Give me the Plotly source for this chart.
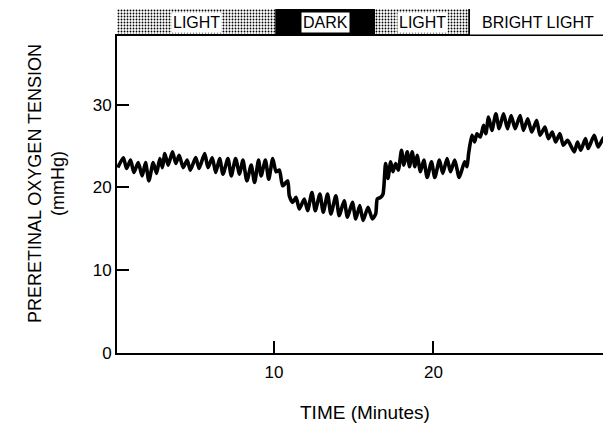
import plotly.graph_objects as go

# ---- data ----
time_min = [0.2, 0.55, 0.75, 1.0, 1.21, 1.48, 1.73, 1.94, 2.15, 2.42, 2.63, 2.84, 3.0, 3.15, 3.36,
            3.63, 3.84, 4.05, 4.3, 4.55, 4.75, 5.09, 5.3, 5.65, 5.86, 6.13, 6.34, 6.59, 6.8, 7.11,
            7.32, 7.59, 7.84, 8.05, 8.3, 8.57, 8.78, 9.03, 9.19, 9.46, 9.67, 9.92, 10.13, 10.34,
            10.54, 10.86, 10.96, 11.17, 11.38, 11.59, 11.9, 12.11, 12.38, 12.59, 12.88, 13.09,
            13.36, 13.57, 13.88, 14.09, 14.4, 14.61, 14.92, 15.13, 15.38, 15.59, 15.9, 16.17,
            16.38, 16.48, 16.69, 16.84, 17.0, 17.15, 17.32, 17.46, 17.63, 17.8, 18.0, 18.15,
            18.36, 18.5, 18.67, 18.84, 18.98, 19.19, 19.4, 19.61, 19.88, 20.09, 20.38, 20.59,
            20.86, 21.07, 21.34, 21.62, 21.96, 22.11, 22.21, 22.42, 22.59, 22.73, 22.94, 23.15,
            23.29, 23.46, 23.67, 23.92, 24.13, 24.4, 24.65, 24.88, 25.13, 25.44, 25.65, 25.92,
            26.17, 26.48, 26.69, 27.0, 27.21, 27.46, 27.67, 27.94, 28.15, 28.42, 28.84, 29.04,
            29.25, 29.54, 29.71, 30.09, 30.34, 30.71, 30.83]
po2_mmhg = [22.4, 23.6, 22.3, 23.3, 21.8, 23.0, 21.4, 23.0, 20.8, 23.0, 21.7, 23.5, 22.4, 24.1, 22.7,
            24.3, 22.9, 23.9, 22.4, 23.3, 22.1, 23.6, 22.3, 24.1, 22.4, 23.6, 21.8, 23.5, 21.6, 23.5,
            21.4, 23.5, 21.6, 23.3, 20.8, 22.7, 20.6, 23.3, 21.4, 23.3, 21.0, 23.5, 21.9, 22.1,
            20.2, 20.8, 19.0, 18.2, 18.8, 17.4, 18.6, 17.2, 19.4, 17.2, 19.2, 17.0,
            19.2, 16.8, 19.0, 16.6, 18.4, 16.4, 18.2, 16.2, 17.8, 16.0, 17.6, 16.2,
            16.8, 18.6, 18.8, 19.2, 22.9, 21.1, 23.1, 21.9, 22.9, 22.1, 24.5, 22.7,
            24.3, 22.5, 24.3, 22.5, 23.9, 21.9, 23.3, 21.2, 23.1, 21.2, 23.3, 21.7,
            23.5, 21.9, 23.3, 21.2, 23.1, 22.5, 24.1, 26.3, 25.5, 26.5, 26.1, 27.5,
            26.5, 28.5, 26.9, 28.9, 27.1, 28.9, 27.1, 28.7, 27.1, 28.7, 26.9, 28.3,
            26.7, 28.1, 26.3, 27.3, 25.9, 26.7, 25.5, 26.5, 25.1, 25.7, 24.3, 25.5,
            24.5, 25.9, 24.7, 26.3, 24.9, 26.1, 25.6]

phase_labels = ["LIGHT", "DARK", "LIGHT", "BRIGHT LIGHT"]
phase_start = [0.15, 10.17, 16.33, 22.29]
phase_end = [10.17, 16.33, 22.29, 30.83]
phase_fill = ["black", "black", "black", "white"]
phase_pattern = [".", "", ".", ""]
label_box = ["white", "white", "white", "rgba(0,0,0,0)"]

y_ticks = [0, 10, 20, 30]
x_ticks = [10, 20]
x_range = [0.15, 30.83]
y_range = [0, 38.3]

FONT = "Liberation Sans, Arial, sans-serif"
# page body has an 8px margin: figure spans page px 8..611 x 8..425
PLOT_L, PLOT_R, PLOT_TOP, PLOT_BOT, MAIN_TOP = 117, 606, 9, 353, 36
PW = PLOT_R - PLOT_L
PH = PLOT_BOT - PLOT_TOP
main_top = (PLOT_BOT - MAIN_TOP) / PH


def px_x(px):
    return (px - PLOT_L) / PW


def px_y(py):
    return (PLOT_BOT - py) / PH


fig = go.Figure()
fig.add_trace(go.Scatter(
    x=time_min, y=po2_mmhg, mode="lines",
    line=dict(color="black", width=3.6, shape="spline", smoothing=0.6),
    xaxis="x", yaxis="y", hoverinfo="skip", showlegend=False))

widths = [e - s for s, e in zip(phase_start, phase_end)]
fig.add_trace(go.Bar(
    orientation="h", y=[0] * len(phase_labels), x=widths, base=phase_start,
    xaxis="x2", yaxis="y2", width=1,
    marker=dict(color=phase_fill,
                pattern=dict(shape=phase_pattern, size=3, solidity=0.3, fillmode="replace"),
                line=dict(color="black", width=1.5)),
    hoverinfo="skip", showlegend=False))

annotations = []
for lab, s, e, bg in zip(phase_labels, phase_start, phase_end, label_box):
    annotations.append(dict(
        x=(s + e) / 2, y=0, xref="x2", yref="y2", text=lab, showarrow=False,
        font=dict(family=FONT, size=16, color="black"), bgcolor=bg, borderpad=1))

annotations.append(dict(
    x=px_x(365), y=px_y(412), xref="paper", yref="paper",
    text="TIME (Minutes)", showarrow=False, xanchor="center", yanchor="middle",
    font=dict(family=FONT, size=19, color="black")))
annotations.append(dict(
    x=px_x(46), y=px_y(184), xref="paper", yref="paper",
    text="PRERETINAL OXYGEN TENSION<br>(mmHg)", showarrow=False, textangle=-90,
    xanchor="center", yanchor="middle",
    font=dict(family=FONT, size=18, color="black")))

fig.update_layout(
    width=603, height=417,
    margin=dict(l=PLOT_L - 8, r=611 - PLOT_R, t=PLOT_TOP - 8, b=425 - PLOT_BOT),
    paper_bgcolor="white", plot_bgcolor="white",
    bargap=0, showlegend=False,
    font=dict(family=FONT, size=17, color="black"),
    xaxis=dict(domain=[0, 1], range=x_range, tickvals=x_ticks, ticks="inside", ticklen=12,
               tickwidth=1.5, tickcolor="black", showline=True, linewidth=2, linecolor="black",
               mirror=True, showgrid=False, zeroline=False, anchor="y",
               tickfont=dict(family=FONT, size=17), ticklabelstandoff=3),
    yaxis=dict(domain=[0, main_top], range=y_range, tickvals=y_ticks, ticks="inside", ticklen=12,
               tickwidth=1.5, tickcolor="black", showline=True, linewidth=2, linecolor="black",
               mirror=True, showgrid=False, zeroline=False, anchor="x",
               tickfont=dict(family=FONT, size=17), ticklabelstandoff=0),
    xaxis2=dict(domain=[0, 1], range=x_range, visible=False, anchor="y2"),
    yaxis2=dict(domain=[main_top, 1], range=[-0.5, 0.5], visible=False, anchor="x2"),
    annotations=annotations,
)

fig.write_html("out.html")
